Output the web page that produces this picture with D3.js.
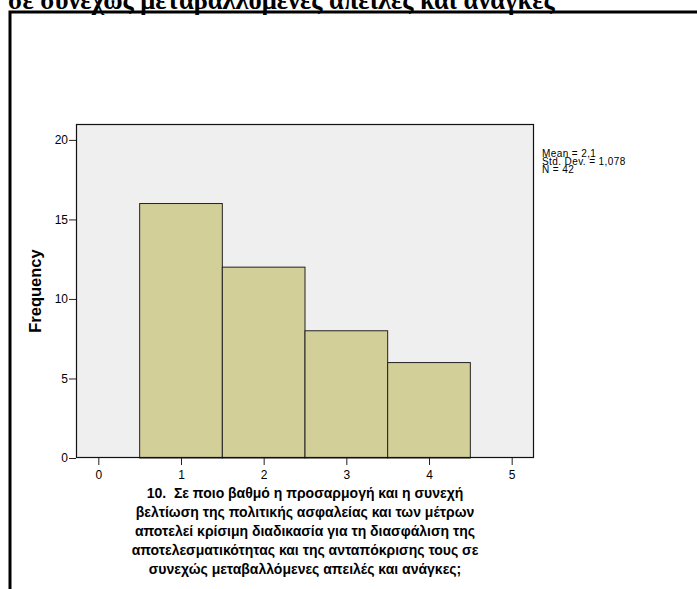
<!DOCTYPE html>
<html>
<head>
<meta charset="utf-8">
<script src="https://cdn.jsdelivr.net/npm/d3@7"></script>
<style>
  html, body { margin: 0; padding: 0; background: #fff; }
  svg { display: block; }
  text { white-space: pre; }
</style>
</head>
<body>
<svg id="chart" width="697" height="589"></svg>
<script>
// Response categories (scale points) and how many respondents chose each
const categories = [1, 2, 3, 4];
const frequencies = [16, 12, 8, 6];
const xTicks = [0, 1, 2, 3, 4, 5];
const yTicks = [0, 5, 10, 15, 20];
const statsLines = ["Mean = 2,1", "Std. Dev. = 1,078", "N = 42"];
const headerText = "σε συνεχώς μεταβαλλόμενες απειλές και ανάγκες";
const titleLines = [
  "10.  Σε ποιο βαθμό η προσαρμογή και η συνεχή",
  "βελτίωση της πολιτικής ασφαλείας και των μέτρων",
  "αποτελεί κρίσιμη διαδικασία για τη διασφάλιση της",
  "αποτελεσματικότητας και της ανταπόκρισης τους σε",
  "συνεχώς μεταβαλλόμενες απειλές και ανάγκες;"
];
const yLabel = "Frequency";

const svg = d3.select("#chart");
const plot = { left: 76, right: 534, top: 124, bottom: 458 };

// Heading text that runs above the chart frame
svg.append("text")
  .attr("x", 8).attr("y", 9)
  .attr("font-family", "'Liberation Serif', 'Times New Roman', serif")
  .attr("font-weight", "bold")
  .attr("font-size", 26.5)
  .attr("fill", "#000")
  .text(headerText);

// Chart frame (left and top edges)
svg.append("path")
  .attr("d", "M10,589 V12 H697")
  .attr("fill", "none")
  .attr("stroke", "#000")
  .attr("stroke-width", 3);

const x = d3.scaleLinear().domain([-0.27, 5.27]).range([plot.left, plot.right]);
const y = d3.scaleLinear().domain([0, 21]).range([plot.bottom, plot.top]);

// Plot background
svg.append("rect")
  .attr("x", plot.left).attr("y", plot.top)
  .attr("width", plot.right - plot.left)
  .attr("height", plot.bottom - plot.top)
  .attr("fill", "#efefef");

// Histogram bars
svg.append("g").selectAll("rect")
  .data(categories.map((c, i) => ({ c, f: frequencies[i] })))
  .join("rect")
  .attr("x", d => x(d.c - 0.5))
  .attr("y", d => y(d.f))
  .attr("width", d => x(d.c + 0.5) - x(d.c - 0.5))
  .attr("height", d => y(0) - y(d.f))
  .attr("fill", "#d3cf99")
  .attr("stroke", "#222")
  .attr("stroke-width", 1);

// Plot border
svg.append("rect")
  .attr("x", plot.left + 0.5).attr("y", plot.top + 0.5)
  .attr("width", plot.right - plot.left - 1)
  .attr("height", plot.bottom - plot.top - 1)
  .attr("fill", "none")
  .attr("stroke", "#111")
  .attr("stroke-width", 1.2);

// Axes
const axisFont = "Arial, 'Liberation Sans', sans-serif";
const yAxis = svg.append("g")
  .attr("transform", `translate(${plot.left},0)`)
  .call(d3.axisLeft(y).tickValues(yTicks).tickSize(7).tickPadding(1).tickFormat(d3.format("d")));
const xAxis = svg.append("g")
  .attr("transform", `translate(0,${plot.bottom})`)
  .call(d3.axisBottom(x).tickValues(xTicks).tickSize(7).tickPadding(5).tickFormat(d3.format("d")));
[yAxis, xAxis].forEach(g => {
  g.select(".domain").remove();
  g.selectAll(".tick line").attr("stroke", "#222");
  g.selectAll(".tick text")
    .attr("font-family", axisFont)
    .attr("font-size", 12)
    .attr("fill", "#000");
});

// Y axis title
svg.append("text")
  .attr("transform", `translate(41,${(plot.top + plot.bottom) / 2}) rotate(-90)`)
  .attr("text-anchor", "middle")
  .attr("font-family", axisFont)
  .attr("font-weight", "bold")
  .attr("font-size", 16.5)
  .attr("fill", "#000")
  .text(yLabel);

// Summary statistics
svg.append("g").selectAll("text")
  .data(statsLines)
  .join("text")
  .attr("x", 542)
  .attr("y", (d, i) => 156.5 + i * 8)
  .attr("font-family", axisFont)
  .attr("font-size", 10)
  .attr("letter-spacing", 0.4)
  .attr("fill", "#000")
  .text(d => d);

// X axis title (question text)
svg.append("g").selectAll("text")
  .data(titleLines)
  .join("text")
  .attr("x", (plot.left + plot.right) / 2)
  .attr("y", (d, i) => 498 + i * 19)
  .attr("text-anchor", "middle")
  .attr("font-family", axisFont)
  .attr("font-weight", "bold")
  .attr("font-size", 14)
  .attr("fill", "#000")
  .text(d => d);
</script>
</body>
</html>
